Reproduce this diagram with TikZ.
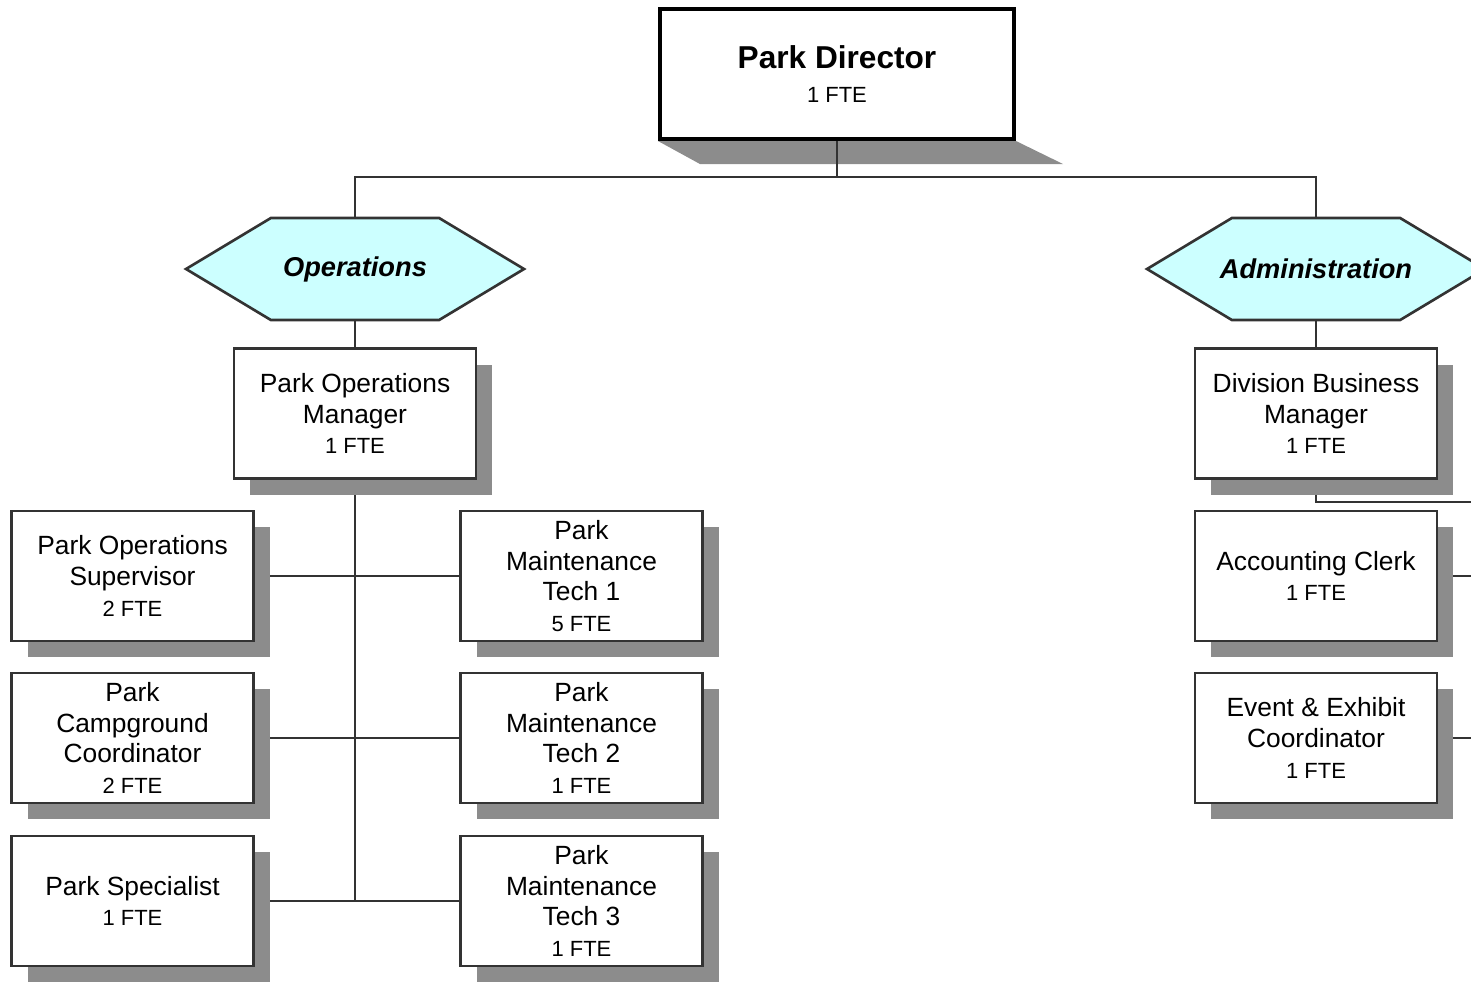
\documentclass[tikz,border=0pt]{standalone}
\usepackage{fontspec}
\setmainfont{Liberation Sans}
\usetikzlibrary{shapes.symbols,shadows,backgrounds,calc}
\definecolor{hexfill}{RGB}{204,255,255}
\definecolor{linegray}{RGB}{51,51,51}
\newcommand{\fte}[1]{{\fontsize{12.5}{15}\selectfont #1 FTE}}
\newcommand{\divname}[1]{\makebox[0pt]{#1}}

\tikzset{
  post/.style={draw=linegray, line width=1.5pt, fill=white, minimum width=4.84cm,
    minimum height=2.6cm, align=center, inner sep=2pt, font=\fontsize{15}{17.5}\selectfont,
    drop shadow={shadow xshift=0.32cm, shadow yshift=-0.32cm, fill=black!45, opacity=1}},
  division/.style={shape=signal, signal to=west and east, signal pointer angle=62,
    draw=linegray, line width=1.5pt, fill=hexfill, minimum width=6.76cm, minimum height=2.04cm,
    inner sep=0pt, font=\fontsize{15.5}{18}\selectfont\bfseries\itshape},
  link/.style={draw=linegray, line width=1.5pt}
}

\begin{document}
\begin{tikzpicture}
  \useasboundingbox (0,0) rectangle (29.42,-19.62);

  \node[draw=black, line width=2.3pt, fill=white, minimum width=7.08cm, minimum height=2.6cm,
    align=center] (dir) at (16.74,-1.48) {{\fontsize{18}{21}\selectfont\bfseries Park Director}\\[7pt]\fte{1}}; % top box

  \node[division] (ops) at (7.1,-5.38) {\divname{Operations}};      % left branch
  \node[division] (adm) at (26.32,-5.38) {\divname{Administration}}; % right branch

  % operations side
  \node[post] (pom)  at (7.1,-8.27)   {Park Operations\\Manager\\\fte{1}};
  \node[post] (sup)  at (2.65,-11.52) {Park Operations\\Supervisor\\\fte{2}};
  \node[post] (camp) at (2.65,-14.76) {Park\\Campground\\Coordinator\\\fte{2}};
  \node[post] (spec) at (2.65,-18.02) {Park Specialist\\\fte{1}};
  \node[post] (mt1)  at (11.63,-11.52) {Park\\Maintenance\\Tech 1\\\fte{5}};
  \node[post] (mt2)  at (11.63,-14.76) {Park\\Maintenance\\Tech 2\\\fte{1}};
  \node[post] (mt3)  at (11.63,-18.02) {Park\\Maintenance\\Tech 3\\\fte{1}};

  % administration side
  \node[post] (dbm) at (26.32,-8.27)  {Division Business\\Manager\\\fte{1}};
  \node[post] (ac)  at (26.32,-11.52) {Accounting Clerk\\\fte{1}};
  \node[post] (eec) at (26.32,-14.76) {Event \& Exhibit\\Coordinator\\\fte{1}};

  \coordinate (bus) at (16.74,-3.54);
  \coordinate (dbmout) at (29.8,-10.04);

  \begin{scope}[on background layer]
    \fill[black!45] (dir.south west) -- (dir.south east) -- ($(dir.south east)+(0.94,-0.46)$)
      -- ($(dir.south west)+(0.84,-0.46)$) -- cycle; % slanted shadow
    \draw[link] (dir.south) -- (bus);
    \draw[link] (ops.north) |- (bus) -| (adm.north);
    \draw[link] (ops.south) -- (pom.north);
    \draw[link] (adm.south) -- (dbm.north);
    \draw[link] (pom.south) -- (pom.south |- spec.east); % trunk
    \draw[link] (sup.east) -- (mt1.west);
    \draw[link] (camp.east) -- (mt2.west);
    \draw[link] (spec.east) -- (mt3.west);
    \draw[link] (dbm.south) |- (dbmout);
    \draw[link] (ac.east) -- (ac.east -| dbmout);
    \draw[link] (eec.east) -- (eec.east -| dbmout);
  \end{scope}
\end{tikzpicture}
\end{document}
